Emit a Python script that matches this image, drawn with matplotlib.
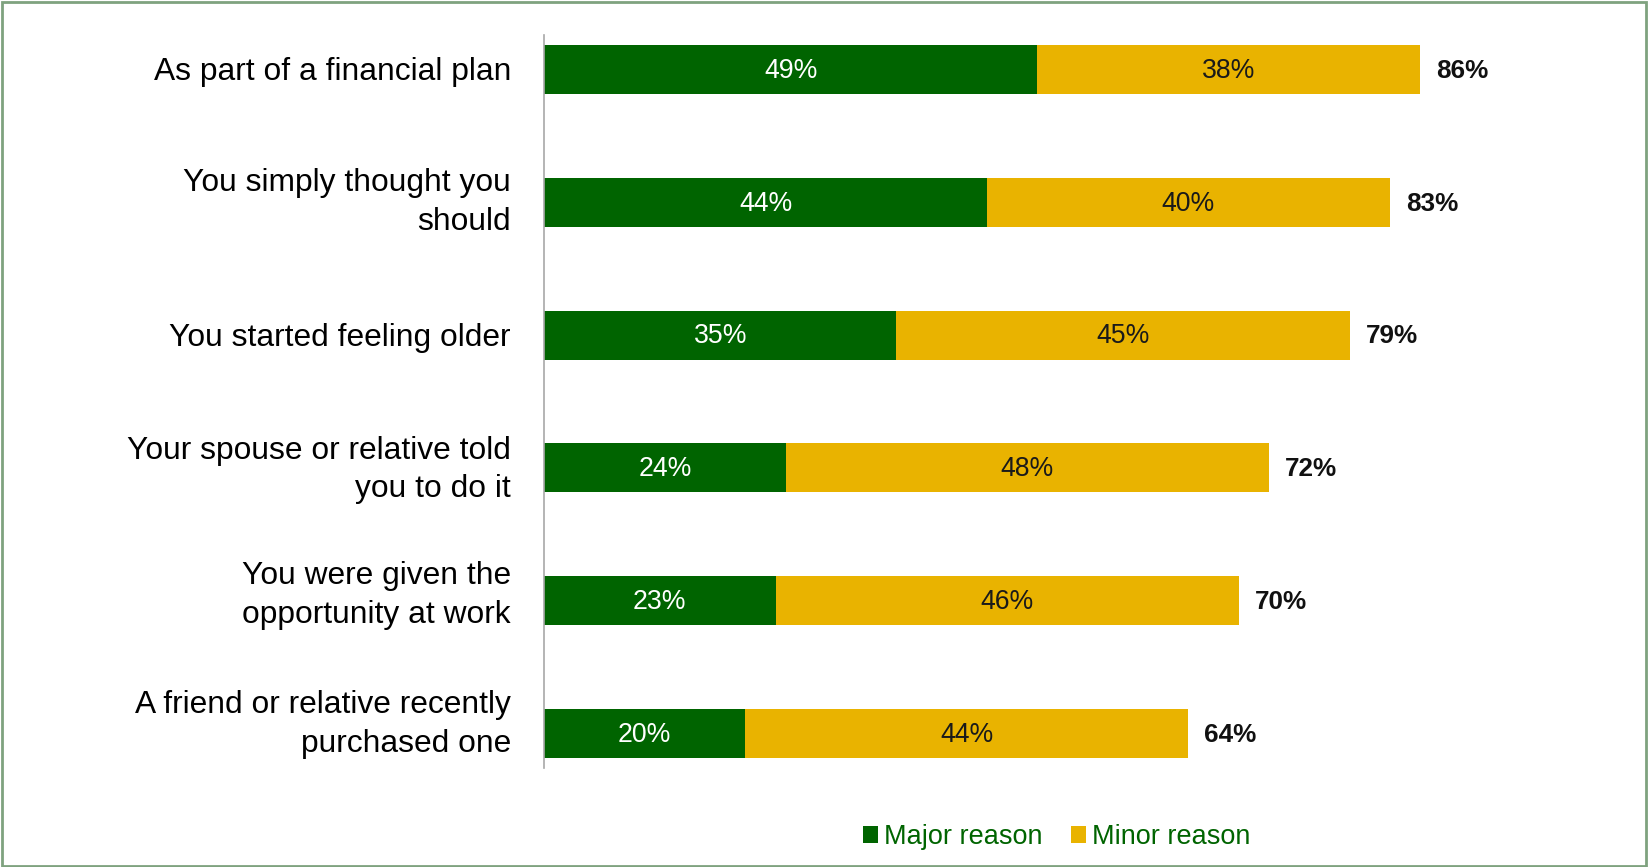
import matplotlib
matplotlib.use("Agg")
import matplotlib.pyplot as plt
from matplotlib.patches import Patch, Rectangle

categories = [
    "As part of a financial plan",
    "You simply thought you\nshould",
    "You started feeling older",
    "Your spouse or relative told\nyou to do it",
    "You were given the\nopportunity at work",
    "A friend or relative recently\npurchased one",
]
major = [49, 44, 35, 24, 23, 20]
minor = [38, 40, 45, 48, 46, 44]
totals = [86, 83, 79, 72, 70, 64]
series_names = ["Major reason", "Minor reason"]

GREEN = "#006400"
YELLOW = "#E9B300"
FONT = "Liberation Sans"
# vertical nudges (pixels, positive = up) of the category labels, as in the original
label_nudge = [-2, 0, -3, -2, 5, 9]

W, H = 1649, 867
fig = plt.figure(figsize=(W / 100, H / 100), dpi=100)
ax = fig.add_axes([544 / W, 1 - 768 / H, 1007 / W, (768 - 35) / H])

y = list(range(len(categories)))
bh = 0.37
ax.barh(y, major, height=bh, color=GREEN, edgecolor="none")
ax.barh(y, minor, left=major, height=bh, color=YELLOW, edgecolor="none")

for i in y:
    ax.text(major[i] / 2, i + 0.01, f"{major[i]}%", ha="center", va="center",
            color="white", fontsize=19.2, family=FONT)
    ax.text(major[i] + minor[i] / 2, i + 0.01, f"{minor[i]}%", ha="center", va="center",
            color="#1a1a1a", fontsize=19.2, family=FONT)
    ax.annotate(f"{totals[i]}%", xy=(major[i] + minor[i], i + 0.01), xytext=(16, 0),
                textcoords="offset pixels", ha="left", va="center",
                color="#111111", fontsize=18.8, fontweight="bold", family=FONT)
    ax.annotate(categories[i], xy=(0, i), xycoords=("axes fraction", "data"),
                xytext=(-33, label_nudge[i]), textcoords="offset pixels",
                ha="right", va="center", fontsize=22.9, family=FONT,
                linespacing=1.37, color="#000000", annotation_clip=False)

ax.set_xlim(0, 100)
ax.set_ylim(5.26, -0.26)
ax.set_yticks([])
ax.set_xticks([])
for s in ["top", "right", "bottom"]:
    ax.spines[s].set_visible(False)
ax.spines["left"].set_color("#a8a8a8")
ax.spines["left"].set_linewidth(1.2)

handles = [Patch(facecolor=GREEN, edgecolor="none"), Patch(facecolor=YELLOW, edgecolor="none")]
leg = fig.legend(handles, series_names, loc="center", bbox_to_anchor=(1057 / W, 1 - 837 / H),
                 ncol=2, frameon=False, prop={"family": FONT, "size": 19.5},
                 handlelength=0.55, handleheight=0.55, handletextpad=0.22, columnspacing=1.05)
for t in leg.get_texts():
    t.set_color(GREEN)

fig.patches.append(Rectangle((0.001, 0.001), 0.997, 0.997, transform=fig.transFigure,
                             fill=False, edgecolor="#7FA27F", linewidth=2))

fig.savefig("out.png", dpi=100)
